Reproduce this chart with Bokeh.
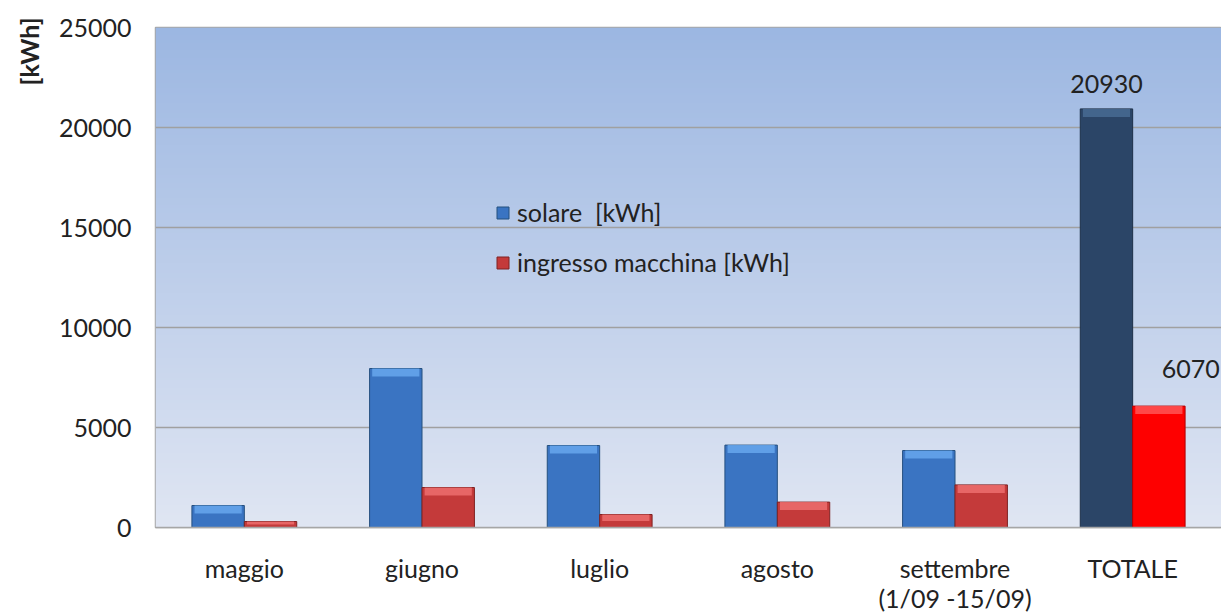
import numpy as np
from bokeh.plotting import figure
from bokeh.models import Range1d, FixedTicker, Legend, LegendItem, Title, Label
from bokeh.embed import file_html
from bokeh.resources import INLINE

# ---- data ----
categories = ["maggio", "giugno", "luglio", "agosto", "settembre\n(1/09 -15/09)", "TOTALE"]
solare = [1100, 7950, 4100, 4120, 3850, 20930]
ingresso = [300, 2000, 650, 1270, 2130, 6070]
y_ticks = [0, 5000, 10000, 15000, 20000, 25000]
series_names = ["solare  [kWh]", "ingresso macchina [kWh]"]
total_labels = ["20930", "6070"]

FONT = "Lato"
FS = "25px"
W, H = 1221, 615
n = len(categories)
xc = [i + 0.5 for i in range(n)]
bw = 0.295
XEND = 6.0

p = figure(width=W, height=H, output_backend="svg", toolbar_location=None,
           x_range=Range1d(0, XEND), y_range=Range1d(0, 25000),
           min_border_left=155, min_border_right=0, min_border_top=27, min_border_bottom=88)
p.background_fill_color = "white"
p.border_fill_color = "white"
p.outline_line_color = "#a6a6a6"
p.outline_line_width = 1.5

# gradient background of the plot area
rows = 200
top = np.array([156, 183, 226]); bot = np.array([224, 230, 243])
img = np.zeros((rows, 1), dtype=np.uint32)
view = img.view(dtype=np.uint8).reshape((rows, 1, 4))
for r in range(rows):
    t = r / (rows - 1)  # 0 bottom -> 1 top
    c = bot + (top - bot) * t
    view[r, 0, 0:3] = c.astype(np.uint8)
    view[r, 0, 3] = 255
p.image_rgba(image=[img], x=0, y=0, dw=XEND, dh=25000, level="image")

p.xgrid.visible = False
p.ygrid.ticker = FixedTicker(ticks=y_ticks)
p.ygrid.grid_line_color = "#a0a0a0"
p.ygrid.grid_line_width = 1.5
p.ygrid.level = "image"

blue_fill = ["#3a74c2"] * (n - 1) + ["#2b4567"]
blue_top = ["#6aaaf0"] * (n - 1) + ["#4a6d96"]
blue_line = ["#25507f"] * (n - 1) + ["#1d3049"]
red_fill = ["#c43a3a"] * (n - 1) + ["#fe0000"]
red_top = ["#f07272"] * (n - 1) + ["#ff5a5a"]
red_line = ["#7f2222"] * (n - 1) + ["#b00000"]

xb = [x - bw / 2 for x in xc]
xr = [x + bw / 2 for x in xc]
rb = p.vbar(x=xb, top=solare, width=bw, fill_color=blue_fill, line_color=blue_line, line_width=1)
rr = p.vbar(x=xr, top=ingresso, width=bw, fill_color=red_fill, line_color=red_line, line_width=1)
# bevel highlight on top of each bar
hb = [min(400, v * 0.5) for v in solare]
hr = [min(400, v * 0.5) for v in ingresso]
p.vbar(x=xb, top=solare, bottom=[v - h for v, h in zip(solare, hb)], width=bw * 0.9,
       fill_color=blue_top, line_color=None, fill_alpha=0.8)
p.vbar(x=xr, top=ingresso, bottom=[v - h for v, h in zip(ingresso, hr)], width=bw * 0.9,
       fill_color=red_top, line_color=None, fill_alpha=0.8)

# axes
p.xaxis.ticker = FixedTicker(ticks=xc)
p.xaxis.major_label_overrides = {x: c for x, c in zip(xc, categories)}
p.xaxis.major_label_text_font = FONT
p.xaxis.major_label_text_font_size = FS
p.xaxis.major_label_text_color = "#222222"
p.xaxis.major_label_text_line_height = 1.0
p.xaxis.major_label_standoff = 19
p.xaxis.major_tick_line_color = None
p.xaxis.minor_tick_line_color = None
p.xaxis.axis_line_color = "#a6a6a6"
p.xaxis.axis_line_width = 1.5

p.yaxis.ticker = FixedTicker(ticks=y_ticks)
p.yaxis.major_label_text_font = FONT
p.yaxis.major_label_text_font_size = FS
p.yaxis.major_label_text_color = "#222222"
p.yaxis.major_label_standoff = 18
p.yaxis.major_tick_line_color = None
p.yaxis.minor_tick_line_color = None
p.yaxis.axis_line_color = None

p.add_layout(Title(text="[kWh]", align="right", text_font=FONT, text_font_size="25px",
                   text_font_style="bold", text_color="#222222", standoff=23, offset=-10), "left")

# data labels on TOTALE
p.add_layout(Label(x=xb[-1], y=solare[-1], text=total_labels[0], text_align="center",
                   text_baseline="bottom", y_offset=16, text_font=FONT, text_font_size=FS,
                   text_color="#222222"))
p.add_layout(Label(x=xr[-1], y=ingresso[-1], text=total_labels[1], text_align="center",
                   text_baseline="bottom", x_offset=32, y_offset=28, text_font=FONT,
                   text_font_size=FS, text_color="#222222"))

legend = Legend(items=[LegendItem(label=series_names[0], renderers=[rb]),
                       LegendItem(label=series_names[1], renderers=[rr])],
                location=(340, 250), orientation="vertical")
legend.background_fill_alpha = 0
legend.border_line_alpha = 0
legend.padding = 0
legend.margin = 0
legend.spacing = 20
legend.glyph_width = 15
legend.glyph_height = 15
legend.label_standoff = 7
legend.label_text_font = FONT
legend.label_text_font_size = FS
legend.label_text_color = "#222222"
p.add_layout(legend)

open("out.html", "w").write(file_html(p, INLINE))
